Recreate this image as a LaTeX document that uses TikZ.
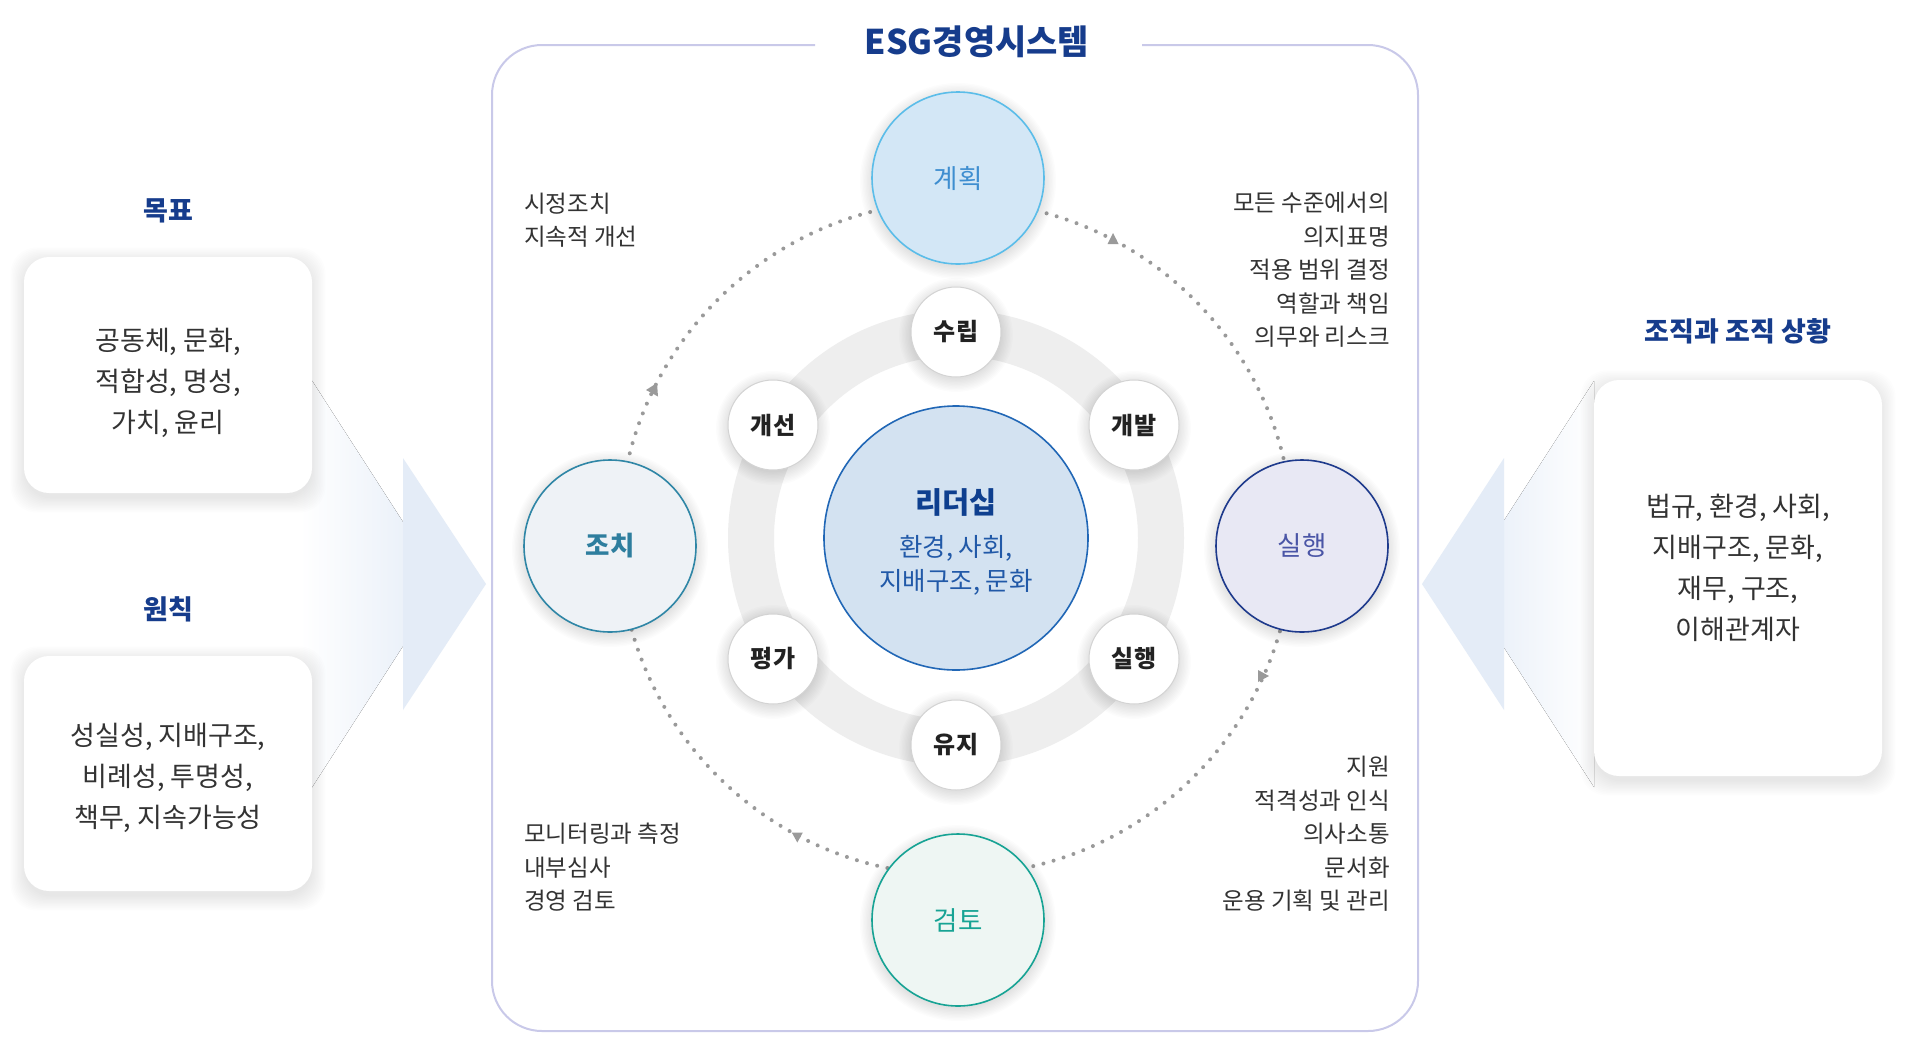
\documentclass[tikz,border=0pt]{standalone}
\usepackage{fontspec}
\setmainfont{Noto Sans CJK KR}
\definecolor{navy}{HTML}{163C8C}
\definecolor{txt}{HTML}{333333}
\definecolor{txtdark}{HTML}{222222}
\definecolor{framec}{HTML}{C9C9E9}
\definecolor{ringgray}{HTML}{EEEEEE}
\definecolor{smallborder}{HTML}{D3D3D3}
\definecolor{dotgray}{HTML}{9A9A9A}
\definecolor{arrowblue}{HTML}{E4ECF7}
\definecolor{gyeFill}{HTML}{D3E7F6}
\definecolor{gyeDraw}{HTML}{5BBDE9}
\definecolor{gyeText}{HTML}{3E8ED0}
\definecolor{jochiFill}{HTML}{EEF2F6}
\definecolor{jochiDraw}{HTML}{2F86A6}
\definecolor{jochiText}{HTML}{2E7E9E}
\definecolor{silFill}{HTML}{E8E8F4}
\definecolor{silDraw}{HTML}{1E3A8C}
\definecolor{silText}{HTML}{4A55A6}
\definecolor{gumFill}{HTML}{EEF6F3}
\definecolor{gumDraw}{HTML}{17A394}
\definecolor{gumText}{HTML}{17A394}
\definecolor{leadFill}{HTML}{D3E2F1}
\definecolor{leadDraw}{HTML}{2167B6}
\definecolor{leadTitle}{HTML}{0E3F8F}
\definecolor{leadText}{HTML}{2159A8}
\newcommand\myCircShadow[3]{%
  \foreach \k in {1,...,10}{\fill[black, opacity=0.011] (#1,#2+3) circle[radius=#3-2+\k*1.4];}}
\newcommand\myBoxShadow[4]{%
  \foreach \k in {1,...,12}{\fill[black, opacity=0.009, rounded corners=26pt] (#1-\k*1.3+2,#2-\k*1.3+6) rectangle (#3+\k*1.3-2,#4+\k*1.3+4);}}
\tikzset{
  body/.style={font=\fontsize{23.5}{33.5}\selectfont, text=txt, inner sep=0pt},
  boxtext/.style={font=\fontsize{27}{41}\selectfont, text=txt, inner sep=0pt, align=center},
  lab/.style={font=\bfseries\fontsize{27}{30}\selectfont, text=navy, inner sep=0pt},
  bigc/.style={circle, minimum size=172pt, line width=1.6pt, inner sep=0pt, font=\fontsize{26.5}{30}\selectfont},
  smallc/.style={circle, minimum size=90pt, inner sep=0pt, fill=white, draw=smallborder, line width=1pt, font=\bfseries\fontsize{24}{28}\selectfont, text=txtdark},
  sidebox/.style={rectangle, rounded corners=25pt, fill=white, inner sep=0pt},
  dotc/.style={draw=dotgray, line width=4pt, line cap=round, dash pattern=on 0pt off 10.5pt},
  tri/.style={fill=dotgray},
}
\begin{document}
\begin{tikzpicture}[x=1pt, y=-1pt]
\useasboundingbox (0,0) rectangle (1920,1053);
\fill[white] (0,0) rectangle (1920,1053);

% side arrows
\fill[left color=white, right color=arrowblue] (300,362) -- (443,584) -- (300,806) -- cycle;
\fill[arrowblue] (403,458) -- (486,584) -- (403,710) -- cycle;
\fill[right color=white, left color=arrowblue] (1594,381) -- (1463,584) -- (1594,787) -- cycle;
\fill[arrowblue] (1504,458) -- (1422,584) -- (1504,710) -- cycle;

% left boxes
\myBoxShadow{24}{257}{312}{493}
\myBoxShadow{24}{656}{312}{891}
\myBoxShadow{1594}{380}{1882}{776}
\node[lab] (goal) at (168,211) {목표};
\node[sidebox, minimum width=288pt, minimum height=236pt] (goalbox) at (168,375) {};
\node[boxtext] (goaltext) at (168,383) {공동체, 문화,\\적합성, 명성,\\가치, 윤리};
\node[lab] (princ) at (168,609) {원칙};
\node[sidebox, minimum width=288pt, minimum height=235pt] (princbox) at (168,773.5) {};
\node[boxtext] (princtext) at (168,778) {성실성, 지배구조,\\비례성, 투명성,\\책무, 지속가능성};

% right box
\node[lab] (ctx) at (1738,331) {조직과 조직 상황};
\node[sidebox, minimum width=288pt, minimum height=396pt] (ctxbox) at (1738,578) {};
\node[boxtext] (ctxtext) at (1738,568) {법규, 환경, 사회,\\지배구조, 문화,\\재무, 구조,\\이해관계자};

% frame
\draw[framec, line width=2pt, rounded corners=50pt] (815,45) -- (492,45) -- (492,1031) -- (1418,1031) -- (1418,45) -- (1142,45);
\node[font=\bfseries\fontsize{34}{38}\selectfont, text=navy, inner sep=0pt] (title) at (977,42) {ESG경영시스템};

% ring and dotted cycle
\draw[ringgray, line width=46pt] (956,538) circle[radius=205];
\draw[dotc] (956,538) circle[radius=337];
\fill[tri] (1113,233) -- (1107.5,244) -- (1118.5,244) -- cycle;
\fill[tri] (646,390) -- (657,383) -- (658,396.5) -- cycle;
\fill[tri] (1269,676) -- (1258,670) -- (1258,682) -- cycle;
\fill[tri] (797.3,842.5) -- (791.8,832.5) -- (802.8,832.5) -- cycle;

% big circles
\myCircShadow{958}{178}{86}
\myCircShadow{1302}{546}{86}
\myCircShadow{958}{920}{86}
\myCircShadow{610}{546}{86}
\node[bigc, fill=gyeFill, draw=gyeDraw, text=gyeText] (plan) at (958,178) {계획};
\node[bigc, fill=silFill, draw=silDraw, text=silText] (do) at (1302,546) {실행};
\node[bigc, fill=gumFill, draw=gumDraw, text=gumText] (check) at (958,920) {검토};
\node[bigc, fill=jochiFill, draw=jochiDraw, text=jochiText, font=\bfseries\fontsize{26.5}{30}\selectfont] (act) at (610,546) {조치};

% center
\node[circle, minimum size=264pt, inner sep=0pt, fill=leadFill, draw=leadDraw, line width=1.6pt] (lead) at (956,538) {};
\node[font=\bfseries\fontsize{29.5}{32}\selectfont, text=leadTitle, inner sep=0pt] (leadt) at (956,502) {리더십};
\node[font=\fontsize{25.5}{34}\selectfont, text=leadText, inner sep=0pt, align=center] (leads) at (956,565) {환경, 사회,\\지배구조, 문화};

% small circles
\myCircShadow{956}{332}{45}
\myCircShadow{1134}{425}{45}
\myCircShadow{1134}{659}{45}
\myCircShadow{956}{745}{45}
\myCircShadow{773}{659}{45}
\myCircShadow{773}{425}{45}
\node[smallc] (s1) at (956,332) {수립};
\node[smallc] (s2) at (1134,425) {개발};
\node[smallc] (s3) at (1134,659) {실행};
\node[smallc] (s4) at (956,745) {유지};
\node[smallc] (s5) at (773,659) {평가};
\node[smallc] (s6) at (773,425) {개선};

% side texts
\node[body, anchor=west, align=left] (tl) at (524,220) {시정조치\\지속적 개선};
\node[body, anchor=east, align=right] (tr) at (1390,270) {모든 수준에서의\\의지표명\\적용 범위 결정\\역할과 책임\\의무와 리스크};
\node[body, anchor=west, align=left] (bl) at (524,867.5) {모니터링과 측정\\내부심사\\경영 검토};
\node[body, anchor=east, align=right] (br) at (1390,834) {지원\\적격성과 인식\\의사소통\\문서화\\운용 기획 및 관리};
\end{tikzpicture}
\end{document}
